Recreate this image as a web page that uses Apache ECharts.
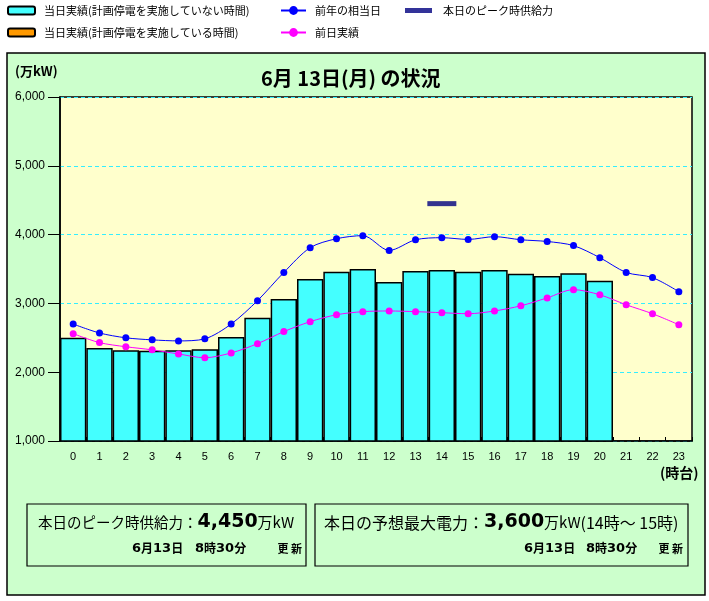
<!DOCTYPE html>
<html>
<head>
<meta charset="utf-8">
<script src="https://cdn.jsdelivr.net/npm/echarts@6/dist/echarts.min.js"></script>
<style>
  html, body { margin: 0; padding: 0; background: #fff; }
  #chart { width: 709px; height: 601px; }
</style>
</head>
<body>
<div id="chart"></div>
<script>
// データ
const hours = ['0','1','2','3','4','5','6','7','8','9','10','11','12','13','14','15','16','17','18','19','20','21','22','23']
const todayActual = [2500, 2350, 2320, 2310, 2320, 2335, 2510, 2790, 3065, 3355, 3460, 3500, 3310, 3470, 3485, 3460, 3485, 3430, 3400, 3440, 3330]
const todayOutage = []
const lastYear = [2700, 2570, 2500, 2470, 2455, 2485, 2700, 3040, 3450, 3810, 3940, 3985, 3770, 3925, 3955, 3930, 3970, 3925, 3900, 3840, 3665, 3450, 3375, 3170]
const yesterday = [2560, 2430, 2370, 2325, 2265, 2210, 2280, 2415, 2590, 2735, 2835, 2880, 2890, 2880, 2865, 2850, 2890, 2965, 3080, 3200, 3125, 2980, 2850, 2690]
const peakHour = 14
const peakSupply = 4450
const forecastMax = 3600
const yTicks = [1000, 2000, 3000, 4000, 5000, 6000]

const names = {
  bar: '当日実績(計画停電を実施していない時間)',
  outage: '当日実績(計画停電を実施している時間)',
  lastYear: '前年の相当日',
  yesterday: '前日実績',
  peak: '本日のピーク時供給力',
}

const fmt = v => v.toLocaleString('en-US')
const JP = '"Noto Sans CJK JP", sans-serif'
const NUM = '"DejaVu Sans", sans-serif'

const chart = echarts.init(document.getElementById('chart'))

const legendText = { color: '#000', fontSize: 11, fontFamily: JP, padding: [0, 0, 0, 4] }

// 更新時刻のテキスト
const timeRich = {
  n: { font: 'bold 13px ' + NUM, fill: '#000' },
  k: { font: 'bold 12px ' + JP, fill: '#000' },
}
const updatedLabel = (x0, x1, xr) => [
  { type: 'text', left: x0, top: 542, style: { text: '{n|6}{k|月}{n|13}{k|日}', rich: timeRich } },
  { type: 'text', left: x1, top: 542, style: { text: '{n|8}{k|時}{n|30}{k|分}', rich: timeRich } },
  { type: 'text', right: xr, top: 543, style: { text: '更 新', font: 'bold 11px ' + JP, fill: '#000' } },
]

const option = {
  backgroundColor: '#fff',
  animation: false,
  legend: [
    {
      left: 7, top: 5, padding: 0, orient: 'vertical', itemGap: 11,
      itemWidth: 27, itemHeight: 8,
      textStyle: legendText,
      data: [names.bar, names.outage],
    },
    {
      left: 280, top: 5, padding: 0, orient: 'vertical', itemGap: 11,
      itemWidth: 25, itemHeight: 11,
      textStyle: legendText,
      data: [names.lastYear, names.yesterday],
    },
    {
      left: 405, top: 5, padding: 0, itemWidth: 27, itemHeight: 5,
      textStyle: { ...legendText, padding: [0, 0, 0, 6] },
      data: [{ name: names.peak, icon: 'rect' }],
    },
  ],
  grid: {
    left: 60, right: 17, top: 97, bottom: 160,
    show: true, backgroundColor: '#FFFFCC', borderColor: '#000', borderWidth: 1.5,
  },
  xAxis: {
    type: 'category',
    data: hours,
    axisLine: { lineStyle: { color: '#000', width: 1.5 } },
    axisTick: { show: true, inside: true, length: 4, lineStyle: { color: '#000' } },
    axisLabel: { color: '#000', fontSize: 11, fontFamily: 'Liberation Sans', margin: 10 },
  },
  yAxis: {
    type: 'value',
    min: yTicks[0],
    max: yTicks[yTicks.length - 1],
    interval: 1000,
    axisLine: { show: true, lineStyle: { color: '#000', width: 1.5 } },
    axisTick: { show: true, length: 12, lineStyle: { color: '#000' } },
    axisLabel: { color: '#000', fontSize: 12, fontFamily: 'Liberation Sans', margin: 15, formatter: fmt },
    splitLine: { lineStyle: { color: '#33EEFF', type: [4, 3], width: 1 } },
  },
  series: [
    {
      name: names.bar, type: 'bar', stack: 'a', barWidth: '100%',
      data: todayActual,
      itemStyle: { color: '#44FFFF', borderColor: '#000', borderWidth: 1.5 },
    },
    {
      name: names.outage, type: 'bar', stack: 'a', barWidth: '100%',
      data: todayOutage,
      itemStyle: { color: '#FF9900', borderColor: '#000', borderWidth: 1.5 },
    },
    {
      name: names.lastYear, type: 'line', data: lastYear, smooth: 0.3,
      symbol: 'circle', symbolSize: 7,
      lineStyle: { color: '#0000FF', width: 1 },
      itemStyle: { color: '#0000FF' },
      z: 3,
    },
    {
      name: names.yesterday, type: 'line', data: yesterday, smooth: 0.3,
      symbol: 'circle', symbolSize: 7,
      lineStyle: { color: '#FF00FF', width: 1 },
      itemStyle: { color: '#FF00FF' },
      z: 3,
    },
    {
      name: names.peak, type: 'scatter',
      data: [[peakHour, peakSupply]],
      symbol: 'rect', symbolSize: [29, 5],
      itemStyle: { color: '#000080' },
      z: 4,
    },
  ],
  graphic: [
    // 外枠
    {
      type: 'rect', z: -10, silent: true,
      shape: { x: 7, y: 53, width: 698, height: 542 },
      style: { fill: '#CCFFCC', stroke: '#000', lineWidth: 1.5 },
    },
    {
      type: 'text', left: 261, top: 68,
      style: { text: '6月 13日(月) の状況', font: 'bold 20px ' + JP, fill: '#000' },
    },
    {
      type: 'text', left: 15, top: 65,
      style: { text: '(万kW)', font: 'bold 13px ' + JP, fill: '#000' },
    },
    {
      type: 'text', left: 660, top: 466,
      style: { text: '(時台)', font: 'bold 14px ' + JP, fill: '#000' },
    },
    // 供給力ボックス
    {
      type: 'rect',
      shape: { x: 27, y: 504, width: 279, height: 62 },
      style: { fill: 'none', stroke: '#000', lineWidth: 1.2 },
    },
    {
      type: 'text', left: 38, top: 513,
      style: {
        text: '{a|本日のピーク時供給力：}{b|' + fmt(peakSupply) + '}{c|万kW}',
        rich: {
          a: { font: '14.5px ' + JP, fill: '#000' },
          b: { font: 'bold 19px ' + NUM, fill: '#000' },
          c: { font: '15px ' + JP, fill: '#000' },
        },
      },
    },
    ...updatedLabel(132, 195, 407),
    // 予想最大電力ボックス
    {
      type: 'rect',
      shape: { x: 315, y: 504, width: 373, height: 62 },
      style: { fill: 'none', stroke: '#000', lineWidth: 1.2 },
    },
    {
      type: 'text', left: 324, top: 513,
      style: {
        text: '{a|本日の予想最大電力：}{b|' + fmt(forecastMax) + '}{c|万kW}{d|(14時～ 15時)}',
        rich: {
          a: { font: '16px ' + JP, fill: '#000' },
          b: { font: 'bold 19px ' + NUM, fill: '#000' },
          c: { font: '15px ' + JP, fill: '#000' },
          d: { font: '16px ' + JP, fill: '#000' },
        },
      },
    },
    ...updatedLabel(524, 586, 26),
  ],
}

chart.setOption(option)
</script>
</body>
</html>
